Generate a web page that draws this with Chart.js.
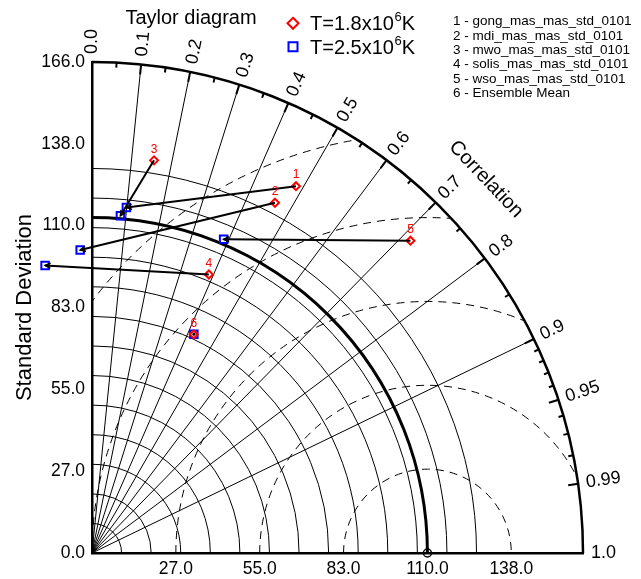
<!DOCTYPE html>
<html><head><meta charset="utf-8">
<script src="https://cdn.jsdelivr.net/npm/chart.js@4.4.0/dist/chart.umd.min.js"></script>
<style>html,body{margin:0;padding:0;background:#fff}canvas{display:block}</style>
</head><body>
<canvas id="c" width="641" height="579"></canvas>
<script>
// ---------- data ----------
const pointLabels = ['1','2','3','4','5','6'];
const sampleNames = ['1 - gong_mas_mas_std_0101','2 - mdi_mas_mas_std_0101','3 - mwo_mas_mas_std_0101','4 - solis_mas_mas_std_0101','5 - wso_mas_mas_std_0101','6 - Ensemble Mean'];
const stdT18 = [141.9, 133.6, 134.4, 102.1, 150.8, 81.5];
const corT18 = [0.486, 0.463, 0.156, 0.387, 0.714, 0.422];
const stdT25 = [117.4, 102.5, 114.4, 98.5, 115.0, 81.6];
const corT25 = [0.099, -0.039, 0.084, -0.161, 0.387, 0.422];
const seriesNames = ['T=1.8x10', 'T=2.5x10'];
const seriesExp = '6';
const seriesUnit = 'K';
const refStd = 113.4;
const maxStd = 166;
const stdTickLabels = ['0.0','27.0','55.0','83.0','110.0','138.0','166.0'];
const xTickLabels = ['27.0','55.0','83.0','110.0','138.0'];
const stdArcs = [10,20,30,40,50,60,70,80,90,100,110,120,130];
const rmsSteps = [1,2,3,4,5];
const corrLines = [0.1,0.2,0.3,0.4,0.5,0.6,0.7,0.8,0.9];
const corrMajorTicks = [0.1,0.2,0.3,0.4,0.5,0.6,0.7,0.8,0.9,0.95,0.99];
const corrMinorTicks = [0.05,0.15,0.25,0.35,0.45,0.55,0.65,0.75,0.85,0.91,0.92,0.93,0.94,0.96,0.97,0.98];
const corrLabelValues = [0.0,0.1,0.2,0.3,0.4,0.5,0.6,0.7,0.8,0.9,0.95,0.99,1.0];
const corrLabelTexts = ['0.0','0.1','0.2','0.3','0.4','0.5','0.6','0.7','0.8','0.9','0.95','0.99','1.0'];

const ff = "'Liberation Sans', Arial, Helvetica, sans-serif";
Chart.defaults.font.family = ff;
Chart.defaults.color = '#000';

function toXY(std, corr){ return {x: std*corr, y: std*Math.sqrt(1-corr*corr)}; }
const redPts = stdT18.map((s,i)=>toXY(s, corT18[i]));
const bluePts = stdT25.map((s,i)=>toXY(s, corT25[i]));

function geom(chart){
  const xs = chart.scales.x, ys = chart.scales.y;
  const ox = xs.getPixelForValue(0), oy = ys.getPixelForValue(0);
  const k = (xs.getPixelForValue(maxStd) - ox) / maxStd;
  return {xs, ys, ox, oy, k, R: maxStd*k};
}

const taylorGrid = {
  id: 'taylorGrid',
  beforeDatasetsDraw(chart){
    const ctx = chart.ctx;
    const {xs, ox, oy, k, R} = geom(chart);
    ctx.save();
    ctx.strokeStyle = '#000';
    ctx.lineWidth = 1;
    stdArcs.forEach(s => { ctx.beginPath(); ctx.arc(ox, oy, s*k, -Math.PI/2, 0); ctx.stroke(); });
    corrLines.forEach(c => {
      const t = Math.acos(c);
      ctx.beginPath(); ctx.moveTo(ox, oy); ctx.lineTo(ox + R*Math.cos(t), oy - R*Math.sin(t)); ctx.stroke();
    });
    // RMS dashed arcs around the reference point
    ctx.save();
    ctx.beginPath(); ctx.moveTo(ox, oy); ctx.arc(ox, oy, R, -Math.PI/2, 0); ctx.closePath(); ctx.clip();
    ctx.setLineDash([8,6]);
    const rx = xs.getPixelForValue(refStd);
    rmsSteps.forEach(m => { ctx.beginPath(); ctx.arc(rx, oy, m*refStd/4*k, -Math.PI, 0); ctx.stroke(); });
    ctx.restore();
    // reference std arc
    ctx.lineWidth = 3;
    ctx.beginPath(); ctx.arc(ox, oy, refStd*k, -Math.PI/2, 0); ctx.stroke();
    // outer arc
    ctx.lineWidth = 2.5;
    ctx.beginPath(); ctx.arc(ox, oy, R, -Math.PI/2, 0); ctx.stroke();
    // ticks
    ctx.lineWidth = 2;
    const tick = (c, len) => {
      const t = Math.acos(c);
      ctx.beginPath();
      ctx.moveTo(ox + R*Math.cos(t), oy - R*Math.sin(t));
      ctx.lineTo(ox + (R-len)*Math.cos(t), oy - (R-len)*Math.sin(t));
      ctx.stroke();
    };
    corrMajorTicks.forEach(c => tick(c, 10));
    corrMinorTicks.forEach(c => tick(c, 5));
    // correlation labels
    ctx.fillStyle = '#000';
    ctx.font = '18px ' + ff;
    ctx.textAlign = 'left'; ctx.textBaseline = 'middle';
    corrLabelValues.forEach((c, i) => {
      const t = Math.acos(c);
      ctx.save();
      ctx.translate(ox + (R+8)*Math.cos(t), oy - (R+8)*Math.sin(t));
      ctx.rotate(-t);
      ctx.fillText(corrLabelTexts[i], 0, 0);
      ctx.restore();
    });
    // "Correlation" title along arc
    const tc = 43.5*Math.PI/180;
    ctx.save();
    ctx.translate(ox + (R+52)*Math.cos(tc), oy - (R+52)*Math.sin(tc));
    ctx.rotate(Math.PI/2 - tc);
    ctx.font = '20px ' + ff;
    ctx.textAlign = 'center';
    ctx.fillText('Correlation', 0, 0);
    ctx.restore();
    ctx.restore();
  },
  afterDatasetsDraw(chart){
    const ctx = chart.ctx;
    const {xs, oy} = geom(chart);
    const area = chart.chartArea;
    const red = chart.getDatasetMeta(0).data, blue = chart.getDatasetMeta(1).data;
    // blue markers lying outside the plotting area (negative correlation)
    blue.forEach(el => {
      if (el.x < area.left || el.x > area.right || el.y < area.top || el.y > area.bottom) el.draw(ctx);
    });
    ctx.save();
    ctx.strokeStyle = '#000';
    ctx.lineWidth = 2;
    red.forEach((p, i) => {
      const q = blue[i];
      ctx.beginPath(); ctx.moveTo(p.x, p.y); ctx.lineTo(q.x, q.y); ctx.stroke();
      const dx = q.x - p.x, dy = q.y - p.y, L = Math.hypot(dx, dy);
      if (L > 3) {
        const a = Math.atan2(dy, dx), h = 6, w = 0.45;
        ctx.lineWidth = 1.5;
        ctx.beginPath();
        ctx.moveTo(q.x - h*Math.cos(a-w), q.y - h*Math.sin(a-w));
        ctx.lineTo(q.x, q.y);
        ctx.lineTo(q.x - h*Math.cos(a+w), q.y - h*Math.sin(a+w));
        ctx.stroke();
        ctx.lineWidth = 2;
      } else {
        ctx.fillStyle = '#000';
        ctx.beginPath(); ctx.arc(q.x, q.y, 1.5, 0, 2*Math.PI); ctx.fill();
      }
    });
    // point numbers
    ctx.fillStyle = '#ff0000';
    ctx.font = '12px ' + ff;
    ctx.textAlign = 'center'; ctx.textBaseline = 'middle';
    red.forEach((p, i) => ctx.fillText(pointLabels[i], p.x, p.y - 11));
    // reference point marker
    ctx.strokeStyle = '#000'; ctx.lineWidth = 1.5;
    ctx.beginPath(); ctx.arc(xs.getPixelForValue(refStd), oy, 4, 0, 2*Math.PI); ctx.stroke();
    ctx.restore();
  },
  afterDraw(chart){
    const ctx = chart.ctx;
    ctx.save();
    ctx.fillStyle = '#000';
    ctx.font = '20px ' + ff;
    ctx.textAlign = 'center'; ctx.textBaseline = 'alphabetic';
    ctx.fillText('Taylor diagram', 191, 24);
    // legend
    const rows = [{y: 23.3, color: '#ff0000', style: 'rectRot'}, {y: 46.7, color: '#0000ff', style: 'rect'}];
    rows.forEach((r, i) => {
      ctx.strokeStyle = r.color; ctx.lineWidth = 2;
      ctx.beginPath();
      if (r.style === 'rectRot') {
        const s = 5.5;
        ctx.moveTo(293, r.y - s); ctx.lineTo(293 + s, r.y); ctx.lineTo(293, r.y + s); ctx.lineTo(293 - s, r.y); ctx.closePath();
      } else {
        ctx.rect(288.5, r.y - 4.5, 9, 9);
      }
      ctx.stroke();
      ctx.fillStyle = '#000';
      ctx.textAlign = 'left';
      ctx.font = '20px ' + ff;
      const base = r.y + 7;
      ctx.fillText(seriesNames[i], 310, base);
      let x = 310 + ctx.measureText(seriesNames[i]).width;
      ctx.font = '13px ' + ff;
      ctx.fillText(seriesExp, x + 0.5, base - 9);
      x += ctx.measureText(seriesExp).width + 0.5;
      ctx.font = '20px ' + ff;
      ctx.fillText(seriesUnit, x, base);
    });
    ctx.font = '13.5px ' + ff;
    ctx.textAlign = 'left'; ctx.textBaseline = 'middle';
    sampleNames.forEach((s, i) => ctx.fillText(s, 453, 21.7 + i*14.35));
    ctx.restore();
  }
};

new Chart(document.getElementById('c'), {
  type: 'scatter',
  data: {
    datasets: [
      {label: seriesNames[0], data: redPts, pointStyle: 'rectRot', radius: 4, hoverRadius: 4,
       borderColor: '#ff0000', backgroundColor: 'rgba(0,0,0,0)', borderWidth: 2, clip: false},
      {label: seriesNames[1], data: bluePts, pointStyle: 'rect', radius: 5.3, hoverRadius: 5.3,
       borderColor: '#0000ff', backgroundColor: 'rgba(0,0,0,0)', borderWidth: 2, clip: false}
    ]
  },
  options: {
    responsive: false,
    animation: false,
    events: [],
    layout: {padding: {left: 12, top: 62, right: 58, bottom: 0}},
    plugins: {legend: {display: false}, tooltip: {enabled: false}, title: {display: false}},
    scales: {
      x: {
        type: 'linear', min: 0, max: maxStd, position: 'bottom',
        grid: {display: false, drawTicks: false},
        border: {display: true, width: 2.5, color: '#000'},
        afterBuildTicks: s => { s.ticks = rmsSteps.map(m => ({value: m*refStd/4})); },
        afterFit: s => { s.height = 26; },
        ticks: {autoSkip: false, maxRotation: 0, padding: 6, font: {size: 17.5},
                callback: (v, i) => xTickLabels[i]}
      },
      y: {
        type: 'linear', min: 0, max: maxStd, position: 'left',
        grid: {display: false, drawTicks: false},
        border: {display: true, width: 2.5, color: '#000'},
        afterBuildTicks: s => { s.ticks = stdTickLabels.map((t, i) => ({value: i*maxStd/6})); },
        afterFit: s => { s.width = 80; },
        ticks: {autoSkip: false, padding: 7, font: {size: 17.5},
                callback: (v, i) => stdTickLabels[i]},
        title: {display: true, text: 'Standard Deviation', font: {size: 22}, padding: {top: 0, bottom: 0}}
      }
    }
  },
  plugins: [taylorGrid]
});
</script>
</body></html>
